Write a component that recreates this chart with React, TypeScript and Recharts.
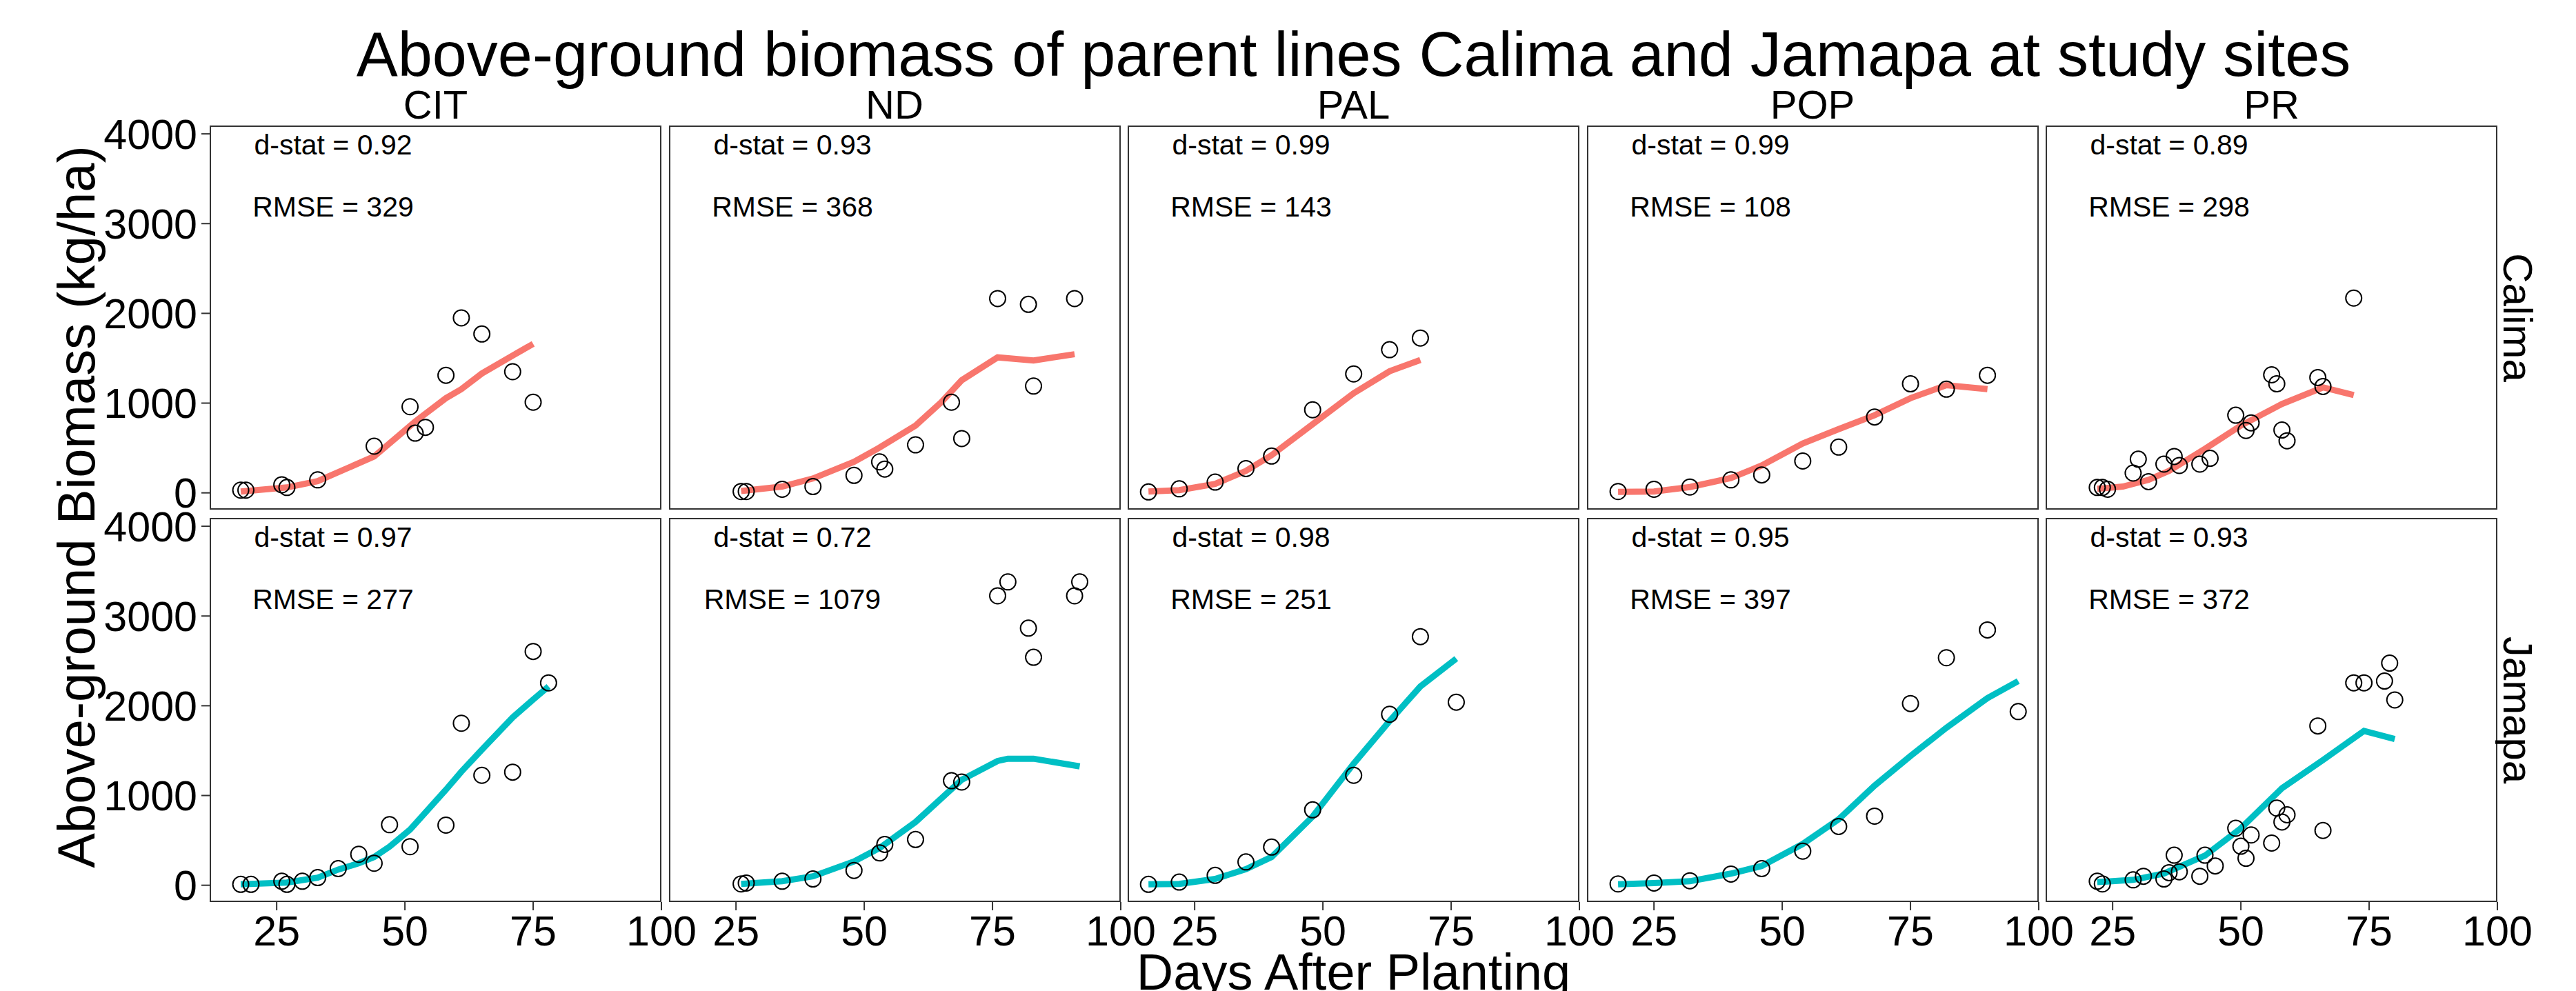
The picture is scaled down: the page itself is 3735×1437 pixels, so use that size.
import { ComposedChart, Line, Scatter, XAxis, YAxis, ReferenceDot } from "recharts";

const sites = ["CIT", "ND", "PAL", "POP", "PR"];
const varieties = ["Calima", "Jamapa"];
const varietyColors = ["#F8766D", "#00BFC4"];

// observed (circles) and simulated (line) biomass, [days after planting, kg/ha]
const citCalimaObs = [[18, 30], [19, 30], [26, 90], [27, 60], [33, 145], [44, 520], [51, 960], [52, 665], [54, 730], [58, 1310], [61, 1950], [65, 1770], [71, 1350], [75, 1010]];
const citCalimaSim = [[18, 15], [27, 60], [33, 130], [44, 405], [52, 795], [58, 1055], [61, 1155], [65, 1330], [71, 1530], [75, 1660]];
const ndCalimaObs = [[26, 15], [27, 15], [34, 40], [40, 70], [48, 195], [53, 345], [54, 265], [60, 535], [67, 1010], [69, 605], [76, 2165], [82, 2100], [83, 1190], [91, 2165]];
const ndCalimaSim = [[26, 20], [34, 70], [40, 160], [48, 345], [53, 505], [60, 750], [65, 1010], [69, 1255], [76, 1510], [83, 1475], [91, 1545]];
const palCalimaObs = [[16, 10], [22, 45], [29, 120], [35, 270], [40, 410], [48, 925], [56, 1325], [63, 1595], [69, 1725]];
const palCalimaSim = [[16, 15], [22, 30], [29, 100], [35, 245], [40, 420], [48, 765], [56, 1110], [63, 1355], [69, 1480]];
const popCalimaObs = [[18, 15], [25, 40], [32, 65], [40, 145], [46, 200], [54, 355], [61, 510], [68, 845], [75, 1215], [82, 1155], [90, 1310]];
const popCalimaSim = [[18, 10], [25, 15], [32, 65], [40, 165], [46, 305], [54, 550], [61, 710], [68, 865], [75, 1055], [82, 1200], [90, 1155]];
const prCalimaObs = [[22, 60], [23, 60], [24, 40], [29, 220], [30, 375], [32, 125], [35, 320], [37, 405], [38, 305], [42, 320], [44, 385], [49, 865], [51, 695], [52, 780], [56, 1315], [57, 1215], [58, 700], [59, 580], [65, 1285], [66, 1185], [72, 2170]];
const prCalimaSim = [[22, 45], [27, 70], [32, 145], [36, 245], [43, 490], [50, 750], [58, 990], [66, 1175], [72, 1090]];

const citJamapaObs = [[18, 10], [20, 10], [26, 45], [27, 10], [30, 45], [33, 85], [37, 185], [41, 345], [44, 245], [47, 675], [51, 430], [58, 670], [61, 1805], [65, 1225], [71, 1260], [75, 2605], [78, 2255]];
const citJamapaSim = [[18, 10], [27, 30], [33, 85], [37, 175], [41, 245], [44, 315], [47, 430], [51, 620], [58, 1065], [61, 1265], [65, 1510], [71, 1870], [75, 2070], [78, 2215]];
const ndJamapaObs = [[26, 15], [27, 25], [34, 45], [40, 70], [48, 165], [53, 360], [54, 455], [60, 510], [67, 1165], [69, 1150], [76, 3225], [78, 3380], [82, 2865], [83, 2540], [91, 3225], [92, 3380]];
const ndJamapaSim = [[26, 15], [34, 45], [40, 100], [48, 265], [53, 415], [60, 705], [69, 1175], [76, 1385], [78, 1410], [83, 1410], [92, 1325]];
const palJamapaObs = [[16, 10], [22, 35], [29, 110], [35, 260], [40, 425], [48, 840], [56, 1225], [63, 1905], [69, 2770], [76, 2040]];
const palJamapaSim = [[16, 10], [22, 15], [29, 70], [35, 180], [40, 315], [48, 765], [56, 1355], [63, 1830], [69, 2215], [76, 2525]];
const popJamapaObs = [[18, 15], [25, 25], [32, 50], [40, 125], [46, 185], [54, 380], [61, 655], [68, 770], [75, 2025], [82, 2535], [90, 2845], [96, 1935]];
const popJamapaSim = [[18, 10], [25, 25], [32, 45], [40, 130], [46, 215], [54, 460], [61, 735], [68, 1110], [75, 1440], [82, 1755], [90, 2085], [96, 2275]];
const prJamapaObs = [[22, 45], [23, 15], [29, 60], [31, 100], [35, 70], [36, 140], [37, 335], [38, 150], [42, 100], [43, 335], [45, 215], [49, 635], [50, 435], [51, 300], [52, 560], [56, 470], [57, 860], [58, 705], [59, 785], [65, 1775], [66, 610], [72, 2255], [74, 2255], [78, 2275], [79, 2475], [80, 2065]];
const prJamapaSim = [[22, 35], [29, 60], [35, 130], [43, 330], [50, 635], [58, 1080], [66, 1395], [74, 1720], [80, 1630]];

const observed = [
  [citCalimaObs, ndCalimaObs, palCalimaObs, popCalimaObs, prCalimaObs],
  [citJamapaObs, ndJamapaObs, palJamapaObs, popJamapaObs, prJamapaObs],
];
const simulated = [
  [citCalimaSim, ndCalimaSim, palCalimaSim, popCalimaSim, prCalimaSim],
  [citJamapaSim, ndJamapaSim, palJamapaSim, popJamapaSim, prJamapaSim],
];

const dstatCalima = ["0.92", "0.93", "0.99", "0.99", "0.89"];
const dstatJamapa = ["0.97", "0.72", "0.98", "0.95", "0.93"];
const rmseCalima = ["329", "368", "143", "108", "298"];
const rmseJamapa = ["277", "1079", "251", "397", "372"];
const dstats = [dstatCalima, dstatJamapa];
const rmses = [rmseCalima, rmseJamapa];

const xTicks = [25, 50, 75, 100];
const yTicks = [0, 1000, 2000, 3000, 4000];
const labelX = 36;
const dstatY = 3880;
const rmseY = 3190;

// layout (px)
const FONT = "'Liberation Sans', Arial, Helvetica, sans-serif";
const PANEL_LEFT = 304;
const PANEL_PITCH_X = 665.5;
const PANEL_W = 655;
const PANEL_TOP = 182;
const PANEL_PITCH_Y = 569;
const PANEL_H = 557;
const Y_AXIS_W = 170;
const X_AXIS_H = 100;
const X_DOMAIN = [11.94, 100];
const Y_DOMAIN = [-187, 4093];

const OpenCircle = (props: any) => {
  const { cx, cy } = props;
  if (cx == null || cy == null) return null;
  return <circle cx={cx} cy={cy} r={11.5} fill="none" stroke="#000" strokeWidth={2} />;
};

const toPoints = (arr: number[][]) => arr.map(([x, y]) => ({ x, y }));

const Panel = ({ row, col }: { row: number; col: number }) => {
  const showY = col === 0;
  const showX = row === 1;
  const left = PANEL_LEFT + col * PANEL_PITCH_X - (showY ? Y_AXIS_W : 0);
  const top = PANEL_TOP + row * PANEL_PITCH_Y;
  const w = PANEL_W + (showY ? Y_AXIS_W : 0);
  const h = PANEL_H + (showX ? X_AXIS_H : 0);
  const labelStyle = { position: "center" as const, fontSize: 41, fill: "#000" };

  return (
    <div style={{ position: "absolute", left, top }}>
      <ComposedChart width={w} height={h} margin={{ top: 0, right: 0, bottom: 0, left: 0 }}>
        <XAxis
          type="number"
          dataKey="x"
          domain={X_DOMAIN}
          allowDataOverflow
          ticks={xTicks}
          interval={0}
          hide={!showX}
          height={X_AXIS_H}
          tickSize={12}
          tickMargin={8}
          axisLine={false}
          tickLine={{ stroke: "#333", strokeWidth: 2 }}
          tick={{ fontSize: 61, fill: "#000" }}
        />
        <YAxis
          type="number"
          dataKey="y"
          domain={Y_DOMAIN}
          allowDataOverflow
          ticks={yTicks}
          interval={0}
          hide={!showY}
          width={Y_AXIS_W}
          tickSize={12}
          tickMargin={6}
          axisLine={false}
          tickLine={{ stroke: "#333", strokeWidth: 2 }}
          tick={{ fontSize: 61, fill: "#000" }}
        />
        <Scatter data={toPoints(observed[row][col])} dataKey="y" shape={OpenCircle} isAnimationActive={false} />
        <Line
          data={toPoints(simulated[row][col])}
          dataKey="y"
          type="linear"
          stroke={varietyColors[row]}
          strokeWidth={9}
          dot={false}
          activeDot={false}
          isAnimationActive={false}
        />
        <ReferenceDot x={labelX} y={dstatY} r={0} fill="none" stroke="none" label={{ value: `d-stat = ${dstats[row][col]}`, ...labelStyle }} />
        <ReferenceDot x={labelX} y={rmseY} r={0} fill="none" stroke="none" label={{ value: `RMSE = ${rmses[row][col]}`, ...labelStyle }} />
      </ComposedChart>
      <div
        style={{
          position: "absolute",
          left: showY ? Y_AXIS_W : 0,
          top: 0,
          width: PANEL_W,
          height: PANEL_H,
          border: "2px solid #333",
          boxSizing: "border-box",
          pointerEvents: "none",
        }}
      />
    </div>
  );
};

export default function App() {
  const plotCenter = PANEL_LEFT + (4 * PANEL_PITCH_X + PANEL_W) / 2;
  const gridCenterY = PANEL_TOP + (PANEL_PITCH_Y + PANEL_H) / 2;
  return (
    <div style={{ position: "relative", width: 3735, height: 1437, background: "#fff", fontFamily: FONT, overflow: "hidden" }}>
      <style>{`body{margin:0}.recharts-surface{overflow:visible}`}</style>
      {varieties.map((v, r) => sites.map((s, c) => <Panel key={`${v}-${s}`} row={r} col={c} />))}
      <svg width={3735} height={1437} style={{ position: "absolute", left: 0, top: 0, pointerEvents: "none" }} fontFamily={FONT}>
        <text x={plotCenter} y={110} fontSize={90} textAnchor="middle" fill="#000">
          Above-ground biomass of parent lines Calima and Jamapa at study sites
        </text>
        {sites.map((s, c) => (
          <text key={s} x={PANEL_LEFT + c * PANEL_PITCH_X + PANEL_W / 2} y={172} fontSize={58} textAnchor="middle" fill="#000">
            {s}
          </text>
        ))}
        {varieties.map((v, r) => {
          const cy = PANEL_TOP + r * PANEL_PITCH_Y + PANEL_H / 2;
          return (
            <text key={v} x={3630} y={cy} fontSize={60} textAnchor="middle" fill="#000" transform={`rotate(90, 3630, ${cy})`}>
              {v}
            </text>
          );
        })}
        <text x={plotCenter} y={1435} fontSize={74} textAnchor="middle" fill="#000">
          Days After Planting
        </text>
        <text x={137} y={gridCenterY - 10} fontSize={76} textAnchor="middle" fill="#000" transform={`rotate(-90, 137, ${gridCenterY - 10})`}>
          Above-ground Biomass (kg/ha)
        </text>
      </svg>
    </div>
  );
}
